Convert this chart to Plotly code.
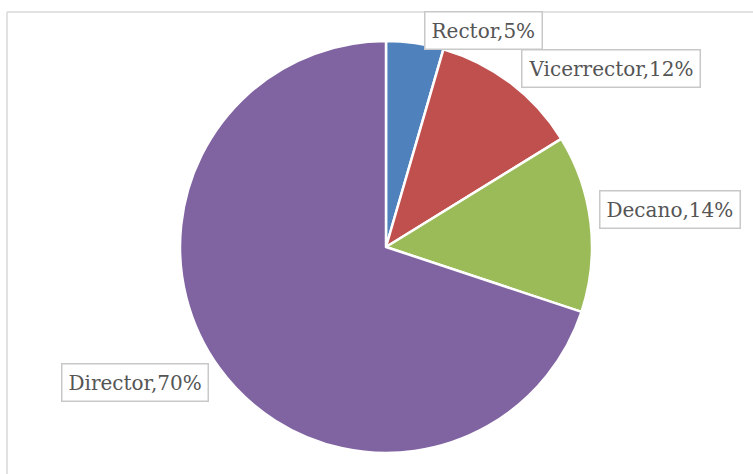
import plotly.graph_objects as go

# Data
categories = ["Rector", "Vicerrector", "Decano", "Director"]
shares = [4.5, 11.7, 13.9, 69.9]
pct_labels = ["5%", "12%", "14%", "70%"]
colors = ["#4F81BD", "#C0504D", "#9BBB59", "#8064A2"]

W, H = 753, 474
cx, cy, r = 386, 247, 206

fig = go.Figure(go.Pie(
    labels=categories,
    values=shares,
    sort=False,
    direction="clockwise",
    rotation=0,
    marker=dict(colors=colors, line=dict(color="white", width=2.5)),
    textinfo="none",
    hoverinfo="label+percent",
    showlegend=False,
    domain=dict(x=[(cx - r) / W, (cx + r) / W], y=[(H - cy - r) / H, (H - cy + r) / H]),
))

# label box positions (pixel centres)
label_pos = [(483, 30), (611, 68), (670, 210), (135, 382)]
for name, pct, (px, py) in zip(categories, pct_labels, label_pos):
    fig.add_annotation(
        x=px / W, y=1 - py / H, xref="paper", yref="paper",
        text=f"{name},{pct}", showarrow=False,
        font=dict(family="DejaVu Serif", size=20, color="#555555"),
        bgcolor="white", bordercolor="#C8C8C8", borderwidth=1.5, borderpad=6,
        xanchor="center", yanchor="middle",
    )

# chart frame (top and left edges)
fig.add_shape(type="line", xref="paper", yref="paper",
              x0=7 / W, x1=1, y0=1 - 12 / H, y1=1 - 12 / H,
              line=dict(color="#D9D9D9", width=1.5), layer="below")
fig.add_shape(type="line", xref="paper", yref="paper",
              x0=7 / W, x1=7 / W, y0=0, y1=1 - 12 / H,
              line=dict(color="#D9D9D9", width=1.5), layer="below")

fig.update_layout(
    width=W, height=H,
    margin=dict(l=0, r=0, t=0, b=0),
    paper_bgcolor="white", plot_bgcolor="white",
)

fig.write_html("out.html", config={"displayModeBar": False},
               post_script="document.body.style.margin='0';document.body.style.overflow='hidden';")
